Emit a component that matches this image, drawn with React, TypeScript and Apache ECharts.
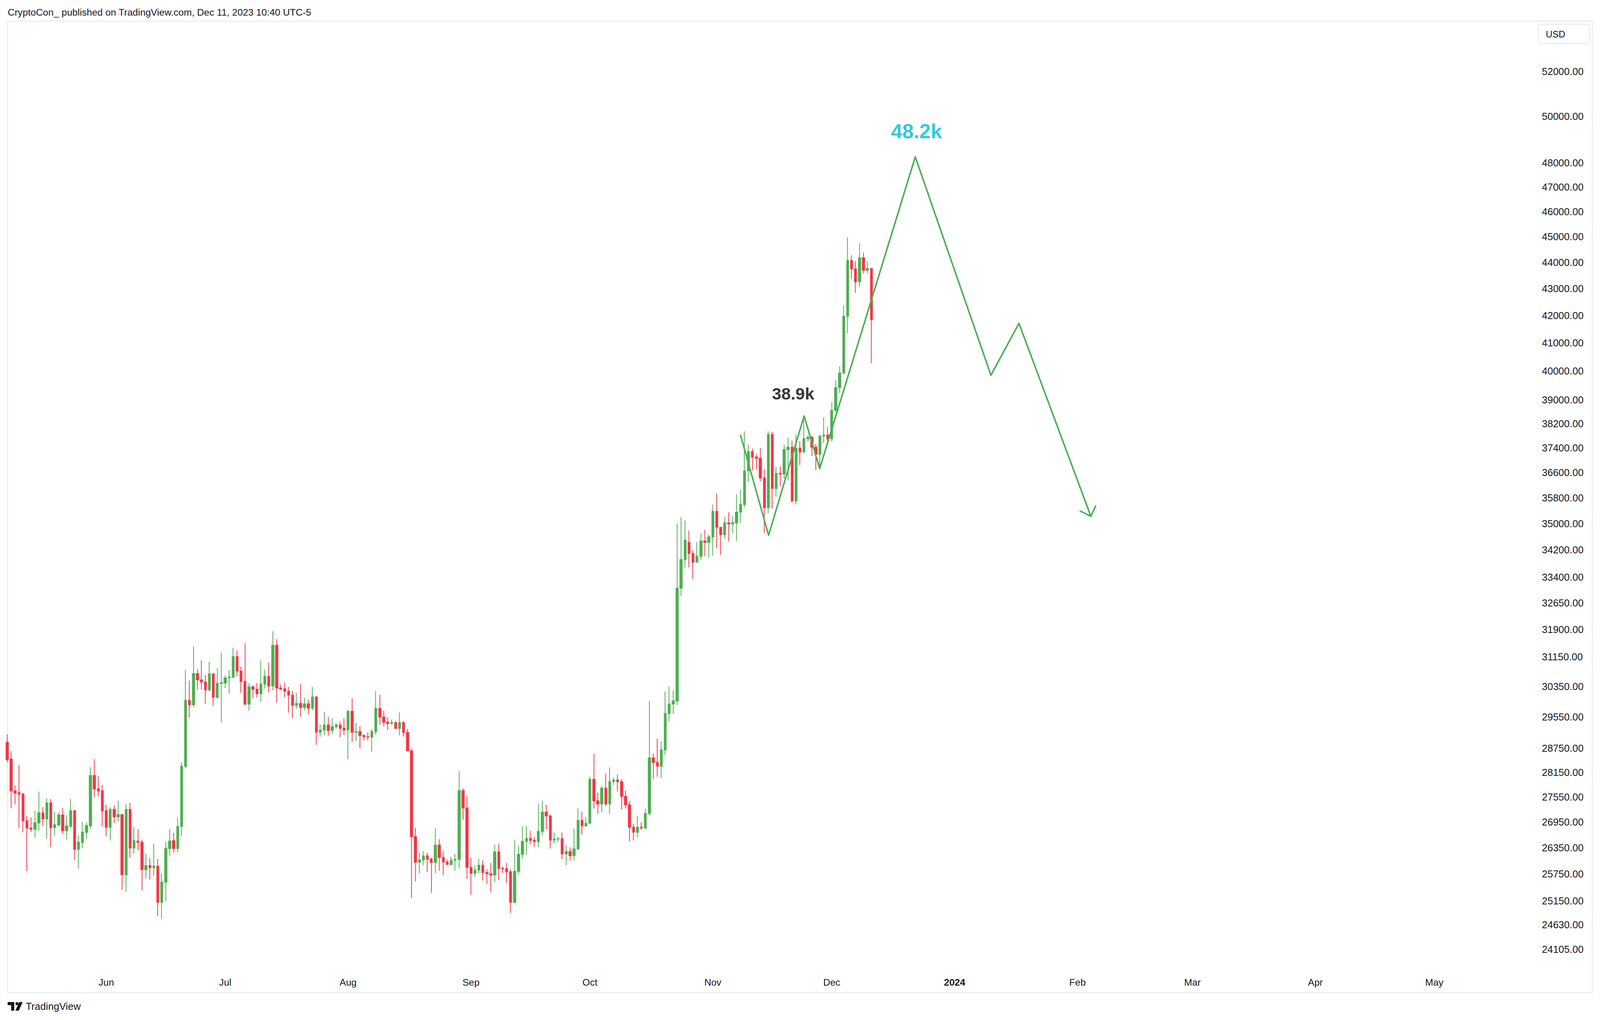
import React, { useEffect, useRef } from 'react';
import * as echarts from 'echarts';

// ---------- data ----------
const HEADER = 'CryptoCon_ published on TradingView.com, Dec 11, 2023 10:40 UTC-5';
const MONTHS = ['Jan', 'Feb', 'Mar', 'Apr', 'May', 'Jun', 'Jul', 'Aug', 'Sep', 'Oct', 'Nov', 'Dec'];

// Daily BTCUSD candles, [open, high, low, close]
const may2023 = [
  [28898, 29100, 28400, 28466], [28479, 28671, 27275, 27692], [27692, 27831, 27368, 27644],
  [27651, 28330, 26807, 27613], [27613, 27651, 26706, 26981], [26981, 27099, 25814, 26807],
  [26807, 27062, 26706, 26780], [26780, 27219, 26585, 26932], [26927, 27679, 26743, 27173],
  [27164, 27303, 26862, 27027], [27027, 27519, 26551, 27406], [27406, 27494, 26361, 26816],
  [26816, 27190, 26633, 26886], [26880, 27182, 26845, 27117], [27117, 27285, 26670, 26743],
  [26743, 27109, 26542, 26858], [26852, 27500, 26807, 27219], [27219, 27228, 26073, 26315],
  [26315, 26633, 25868, 26476], [26470, 26950, 26333, 26712], [26706, 26941, 26560, 26868],
  [26862, 28272, 26780, 28070], [28070, 28479, 27541, 27739], [27745, 28060, 27560, 27692],
  [27698, 27840, 26845, 27212],
];
const jun2023 = [
  [27219, 27358, 26614, 26825], [26825, 27303, 26515, 27249], [27249, 27339, 26927, 27074],
  [27074, 27462, 26963, 27126], [27126, 27135, 25394, 25735], [25735, 27368, 25351, 27249],
  [27249, 27406, 26127, 26343], [26343, 26825, 26212, 26512], [26503, 26780, 26289, 26476],
  [26476, 26542, 25385, 25850], [25850, 26221, 25648, 25939], [25939, 26109, 25622, 25894],
  [25894, 26443, 25710, 25930], [25930, 26088, 24819, 25118], [25118, 25753, 24751, 25570],
  [25570, 26488, 25144, 26333], [26333, 26789, 26168, 26506], [26515, 26697, 26239, 26333],
  [26333, 27047, 26248, 26845], [26845, 28394, 26617, 28297], [28297, 30791, 28258, 29980],
  [29980, 30502, 29527, 29862], [29862, 31434, 29796, 30691], [30691, 30812, 30258, 30523],
  [30523, 31055, 30266, 30466], [30466, 30650, 29898, 30258], [30258, 31013, 30216, 30686],
  [30686, 30700, 29836, 30063], [30063, 30833, 30032, 30429], [30429, 31268, 29406, 30450],
];
const jul2023 = [
  [30440, 30650, 30305, 30576], [30576, 30786, 30155, 30597], [30597, 31396, 30570, 31151],
  [31151, 31320, 30618, 30759], [30759, 30878, 30181, 30482], [30482, 31515, 29848, 29883],
  [29883, 30440, 29710, 30336], [30336, 30377, 30037, 30274], [30274, 30440, 30063, 30155],
  [30155, 31044, 29945, 30408], [30408, 30802, 30295, 30618], [30618, 30991, 30191, 30362],
  [30362, 31856, 30243, 31461], [31461, 31632, 29914, 30305], [30305, 30398, 30243, 30284],
  [30284, 30450, 30068, 30222], [30222, 30336, 29659, 30119], [30119, 30232, 29511, 29848],
  [29848, 30181, 29756, 29898], [29898, 30408, 29557, 29796], [29796, 30047, 29720, 29888],
  [29888, 29995, 29618, 29776], [29776, 30336, 29725, 30068], [30068, 30090, 28834, 29156],
  [29156, 29361, 29036, 29211], [29211, 29679, 29075, 29341], [29341, 29552, 29065, 29201],
  [29201, 29511, 29106, 29296], [29296, 29391, 29246, 29341], [29341, 29431, 29026, 29256],
  [29256, 29511, 29085, 29214],
];
const aug2023 = [
  [29214, 29728, 28470, 29695], [29695, 30036, 28903, 29155], [29155, 29390, 28930, 29170],
  [29170, 29310, 28745, 29071], [29071, 29100, 28940, 29036], [29040, 29150, 28950, 29030],
  [29030, 29237, 28656, 29170], [29170, 30220, 29100, 29768], [29768, 30125, 29347, 29546],
  [29546, 29708, 29307, 29412], [29412, 29536, 29210, 29380], [29380, 29480, 29343, 29400],
  [29400, 29440, 29237, 29253], [29253, 29667, 29071, 29400], [29400, 29440, 29043, 29151],
  [29151, 29235, 28680, 28683], [28683, 28741, 25215, 26606], [26606, 26812, 25584, 26019],
  [26019, 26243, 25768, 26069], [26069, 26272, 25950, 26162], [26162, 26236, 25789, 26090],
  [26090, 26118, 25328, 26012], [26012, 26802, 25768, 26412], [26412, 26548, 25825, 26126],
  [26126, 26272, 25726, 26022], [26022, 26083, 25950, 25969], [25969, 26141, 25940, 26065],
  [26065, 26208, 25825, 26083], [26083, 28173, 25877, 27702], [27702, 27760, 27004, 27284],
  [27284, 27560, 25640, 25899],
];
const sep2023 = [
  [25899, 26115, 25287, 25765], [25765, 25955, 25685, 25839], [25839, 26093, 25765, 25948],
  [25948, 26058, 25605, 25783], [25783, 25858, 25525, 25755], [25755, 26000, 25338, 25727],
  [25727, 26420, 25570, 26254], [26254, 26440, 25615, 25878], [25878, 25920, 25770, 25870],
  [25870, 26000, 25550, 25800], [25800, 25860, 24885, 25120], [25120, 26537, 25100, 25811],
  [25811, 26395, 25738, 26200], [26200, 26848, 26094, 26497], [26497, 26858, 26186, 26567],
  [26567, 26740, 26430, 26520], [26520, 26597, 26373, 26490], [26490, 27390, 26360, 26730],
  [26730, 27462, 26636, 27183], [27183, 27360, 26777, 27094], [27094, 27130, 26330, 26526],
  [26526, 26707, 26440, 26549], [26549, 26607, 26485, 26560], [26560, 26707, 26088, 26209],
  [26209, 26420, 25950, 26260], [26260, 26360, 26050, 26168], [26168, 26795, 26060, 26325],
  [26325, 27280, 26290, 26985], [26985, 27200, 26660, 26860], [26860, 27060, 26840, 26920],
];
const oct2023 = [
  [26920, 28038, 26920, 27977], [27977, 28603, 27270, 27456], [27456, 27650, 27140, 27380],
  [27380, 27820, 27180, 27763], [27763, 28120, 27330, 27380], [27380, 28270, 27140, 27920],
  [27920, 28020, 27840, 27960], [27960, 28090, 27680, 27920], [27920, 27977, 27240, 27560],
  [27560, 27710, 27270, 27360], [27360, 27450, 26497, 26829], [26829, 26905, 26515, 26712],
  [26712, 27093, 26590, 26829], [26829, 26950, 26760, 26810], [26810, 27270, 26777, 27153],
  [27153, 29965, 27100, 28507], [28507, 28613, 27980, 28395], [28395, 28989, 28040, 28302],
  [28302, 28926, 28010, 28708], [28708, 30214, 28575, 29638], [29638, 30340, 29436, 29885],
  [29885, 30247, 29630, 29965], [29965, 35000, 29860, 33076], [33076, 35200, 32844, 33913],
  [33913, 35100, 33683, 34498], [34429, 34784, 33684, 34093], [34093, 34186, 33341, 33838],
  [33838, 34437, 33823, 34016], [34016, 34696, 33900, 34468], [34468, 34808, 34016, 34430],
  [34430, 34665, 33978, 34594],
];
const nov2023 = [
  [34594, 35588, 34030, 35377], [35377, 35936, 34256, 34886], [34886, 34894, 34054, 34665],
  [34665, 35214, 34540, 35021], [35021, 35350, 34450, 34990], [34990, 35230, 34700, 35021],
  [35021, 35912, 34475, 35353], [35353, 36052, 35021, 35588], [35588, 37950, 35500, 36654],
  [36654, 37506, 36287, 37276], [37276, 37378, 36663, 37098], [37098, 37200, 36700, 37060],
  [37060, 37400, 36320, 36428], [36428, 36710, 34712, 35490], [35490, 37950, 35320, 37838],
  [37838, 37924, 35460, 36093], [36093, 36780, 35830, 36570], [36570, 36800, 36160, 36555],
  [36555, 37506, 36410, 37344], [37344, 37744, 36350, 37421], [37421, 37640, 35650, 35701],
  [35701, 37838, 35588, 37387], [37387, 37620, 36835, 37268], [37268, 38400, 37230, 37700],
  [37700, 37830, 37600, 37744], [37744, 37800, 37130, 37421], [37421, 37530, 36680, 37191],
  [37191, 37820, 36800, 37787], [37787, 38417, 37560, 37820], [37820, 38100, 37500, 37700],
];
const dec2023 = [
  [37700, 38941, 37600, 38650], [38650, 39677, 38600, 39425], [39425, 40170, 39240, 39934],
  [39934, 42378, 39900, 41966], [41966, 44972, 41346, 44065], [44065, 44273, 43378, 43745],
  [43745, 44040, 42838, 43260], [43260, 44736, 43070, 44174], [44174, 44378, 43575, 43695],
  [43695, 44025, 43575, 43760], [43760, 43780, 40280, 41843],
];

// Price-scale tick labels (TradingView's log scale)
const priceTicks = [
  52000, 50000, 48000, 47000, 46000, 45000, 44000, 43000, 42000, 41000, 40000, 39000,
  38200, 37400, 36600, 35800, 35000, 34200, 33400, 32650, 31900, 31150, 30350, 29550,
  28750, 28150, 27550, 26950, 26350, 25750, 25150, 24630, 24105,
];

// Hand-drawn projection (day index from 2023-05-07, price)
const projectionIndex = [185.0, 192.07, 201.03, 204.96, 229.07, 248.16, 255.23, 273.36];
const projectionPrice = [37813, 34643, 38458, 36728, 48258, 39856, 41710, 35225];
const arrowIndex = [270.7, 273.36, 274.56];
const arrowPrice = [35382, 35225, 35542];

const annotationText = ['48.2k', '38.9k'];
const annotationIndex = [229.4, 198.25];
const annotationPrice = [49346, 39214];
const annotationColor = ['#00bcd4', '#000000'];
const annotationSize = [53, 44];

// ---------- layout (designed on a 4164 x 2612 frame) ----------
const W = 4164;
const H = 2612;
const Y_MIN = 23682;
const Y_MAX = 54349;
const FONT = '"Liberation Sans", Arial, Helvetica, sans-serif';
const GREEN = '#4caf50';
const RED = '#f23645';
const TEXT = '#131722';
const BORDER = '#e3e6ee';

function buildCategories(): string[] {
  const out: string[] = [];
  const start = Date.UTC(2023, 4, 7);
  const end = Date.UTC(2024, 4, 26);
  for (let t = start; t <= end; t += 86400000) {
    out.push(new Date(t).toISOString().slice(0, 10));
  }
  return out;
}

export default function App() {
  const ref = useRef<HTMLDivElement>(null);

  useEffect(() => {
    document.body.style.margin = '0';
    document.documentElement.style.overflow = 'hidden';
    const el = ref.current;
    if (!el) return;
    const vw = window.innerWidth || W;
    const vh = window.innerHeight || H;
    const sx = vw / W;
    const sy = vh / H;
    const sf = Math.min(sx, sy);
    const X = (v: number) => v * sx;
    const Y = (v: number) => v * sy;
    const F = (v: number) => Math.round(v * sf * 10) / 10;
    el.style.width = vw + 'px';
    el.style.height = vh + 'px';

    const chart = echarts.init(el, null, { renderer: 'svg', width: vw, height: vh });

    const categories = buildCategories();
    const candles = [
      ...may2023, ...jun2023, ...jul2023, ...aug2023, ...sep2023, ...oct2023, ...nov2023, ...dec2023,
    ].map((c) => [c[0], c[3], c[2], c[1]]);
    const lastIdx = categories.length - 1;

    const option: any = {
      animation: false,
      backgroundColor: '#ffffff',
      grid: {
        left: X(18.7),
        right: X(173.3),
        top: Y(54),
        bottom: Y(129),
        containLabel: false,
        outerBoundsMode: 'none',
      },
      xAxis: [
        {
          type: 'category',
          data: categories,
          boundaryGap: false,
          axisLine: { show: false },
          axisTick: { show: false },
          splitLine: { show: false },
          axisLabel: {
            interval: (_i: number, v: string) => v.slice(8) === '01',
            formatter: (v: string) => {
              const m = parseInt(v.slice(5, 7), 10) - 1;
              return m === 0 ? '{y|' + v.slice(0, 4) + '}' : MONTHS[m];
            },
            color: TEXT,
            fontSize: F(25),
            fontFamily: FONT,
            margin: Y(20),
            rich: { y: { fontWeight: 'bold', fontSize: F(25), color: TEXT, fontFamily: FONT } },
          },
        },
        { type: 'value', min: 0, max: lastIdx, show: false },
      ],
      yAxis: {
        type: 'log',
        min: Y_MIN,
        max: Y_MAX,
        position: 'right',
        axisLine: { show: false },
        axisTick: { show: false },
        axisLabel: { show: false },
        splitLine: { show: false },
      },
      graphic: [
        {
          type: 'rect', silent: true,
          shape: { x: X(20), y: Y(54), width: X(4124), height: Y(2488) },
          style: { fill: 'none', stroke: BORDER, lineWidth: 2 },
        },
        {
          type: 'text', x: X(20), y: Y(31), silent: true,
          style: { text: HEADER, font: F(25) + 'px ' + FONT, fill: TEXT, textAlign: 'left', textVerticalAlign: 'middle' },
        },
        {
          type: 'rect', silent: true,
          shape: { x: X(4004), y: Y(62), width: X(132), height: Y(50), r: 6 },
          style: { fill: '#ffffff', stroke: BORDER, lineWidth: 2 },
        },
        {
          type: 'text', x: X(4023), y: Y(88), silent: true,
          style: { text: 'USD', font: F(24) + 'px ' + FONT, fill: TEXT, textAlign: 'left', textVerticalAlign: 'middle' },
        },
        {
          type: 'polygon', silent: true,
          shape: { points: [[X(20), Y(2566)], [X(37), Y(2566)], [X(37), Y(2588)], [X(29), Y(2588)], [X(29), Y(2574)], [X(20), Y(2574)]] },
          style: { fill: TEXT },
        },
        { type: 'circle', silent: true, shape: { cx: X(44), cy: Y(2570), r: F(4) }, style: { fill: TEXT } },
        {
          type: 'polygon', silent: true,
          shape: { points: [[X(50), Y(2566)], [X(59), Y(2566)], [X(49), Y(2588)], [X(40), Y(2588)]] },
          style: { fill: TEXT },
        },
        {
          type: 'text', x: X(67), y: Y(2577), silent: true,
          style: { text: 'TradingView', font: F(26) + 'px ' + FONT, fill: TEXT, textAlign: 'left', textVerticalAlign: 'middle' },
        },
      ],
      series: [
        {
          type: 'candlestick',
          xAxisIndex: 0,
          yAxisIndex: 0,
          data: candles,
          barWidth: X(6),
          clip: true,
          silent: true,
          itemStyle: {
            color: GREEN,
            color0: RED,
            borderColor: GREEN,
            borderColor0: RED,
            borderWidth: 2 * sf,
          },
        },
        {
          type: 'line',
          xAxisIndex: 1,
          yAxisIndex: 0,
          data: projectionIndex.map((x, k) => [x, projectionPrice[k]]),
          symbol: 'none',
          silent: true,
          z: 5,
          lineStyle: { color: GREEN, width: 4 * sf, join: 'round', cap: 'round' },
        },
        {
          type: 'line',
          xAxisIndex: 1,
          yAxisIndex: 0,
          data: arrowIndex.map((x, k) => [x, arrowPrice[k]]),
          symbol: 'none',
          silent: true,
          z: 5,
          lineStyle: { color: GREEN, width: 4 * sf, join: 'round', cap: 'round' },
        },
        {
          type: 'scatter',
          xAxisIndex: 1,
          yAxisIndex: 0,
          symbolSize: 1,
          silent: true,
          z: 6,
          itemStyle: { color: 'rgba(0,0,0,0)' },
          data: annotationText.map((t, k) => ({
            value: [annotationIndex[k], annotationPrice[k]],
            label: {
              show: true,
              position: 'inside',
              formatter: t,
              color: annotationColor[k],
              fontSize: F(annotationSize[k]),
              fontWeight: 'bold',
              fontFamily: FONT,
            },
          })),
        },
        {
          type: 'custom',
          xAxisIndex: 1,
          yAxisIndex: 0,
          clip: false,
          silent: true,
          data: priceTicks.map((v) => [lastIdx, v]),
          renderItem: (_params: any, api: any) => {
            const pt = api.coord([api.value(0), api.value(1)]);
            return {
              type: 'text',
              x: pt[0] + X(22),
              y: pt[1],
              style: {
                text: Number(api.value(1)).toFixed(2),
                fill: TEXT,
                font: F(26) + 'px ' + FONT,
                textAlign: 'left',
                textVerticalAlign: 'middle',
              },
            };
          },
        },
      ],
    };

    chart.setOption(option);
    return () => {
      chart.dispose();
    };
  }, []);

  return (
    <div
      ref={ref}
      style={{ position: 'fixed', left: 0, top: 0, width: W, height: H, background: '#ffffff' }}
    />
  );
}
